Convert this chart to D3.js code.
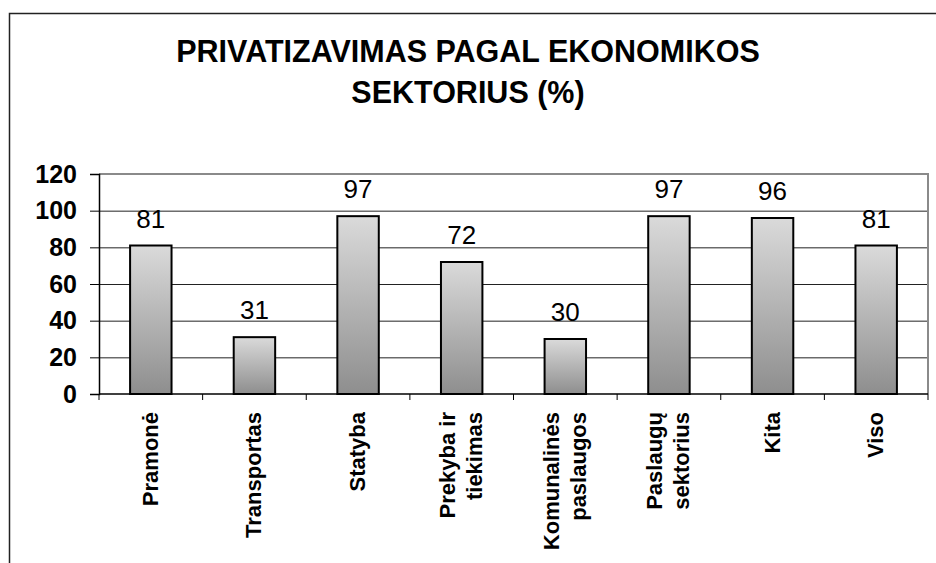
<!DOCTYPE html>
<meta charset="utf-8">
<head>
  <title>Privatizavimas pagal ekonomikos sektorius</title>
</head>

<style>
body {
  margin: 0;
  background: #fff;
  font-family: "Liberation Sans", Arial, sans-serif;
}
</style>

<body>
  <div id="content"></div>

  <script src="https://cdnjs.cloudflare.com/ajax/libs/d3/7.8.5/d3.min.js"></script>

  <script>
// categories (label lines) and values in %
var categories = [
  ['Pramonė'],
  ['Transportas'],
  ['Statyba'],
  ['Prekyba ir', 'tiekimas'],
  ['Komunalinės', 'paslaugos'],
  ['Paslaugų', 'sektorius'],
  ['Kita'],
  ['Viso']
];
var values = [81, 31, 97, 72, 30, 97, 96, 81];
var yTicks = [0, 20, 40, 60, 80, 100, 120];
var titleLines = ['PRIVATIZAVIMAS PAGAL EKONOMIKOS', 'SEKTORIUS (%)'];

var width = 936, height = 563;
var plot = {left: 99, right: 928, top: 174, bottom: 394};

var svg = d3.select('#content').append('svg')
  .attr('width', width)
  .attr('height', height);

// gradient for the bars
var grad = svg.append('defs').append('linearGradient')
  .attr('id', 'barGrad')
  .attr('x1', 0).attr('y1', 0).attr('x2', 0).attr('y2', 1);
grad.append('stop').attr('offset', '0%').attr('stop-color', '#dadada');
grad.append('stop').attr('offset', '100%').attr('stop-color', '#8e8e8e');

// outer frame (right and bottom go off the picture)
svg.append('rect')
  .attr('x', 9.5).attr('y', 13.5)
  .attr('width', 940).attr('height', 600)
  .attr('fill', 'none')
  .attr('stroke', '#222')
  .attr('stroke-width', 1.5);

// title
svg.append('g').selectAll('text')
  .data(titleLines)
  .join('text')
  .attr('x', 468)
  .attr('y', function(d, i) { return 62 + i * 41; })
  .attr('text-anchor', 'middle')
  .style('font-size', '30.5px')
  .style('font-weight', 'bold')
  .attr('fill', '#000')
  .text(function(d) { return d; });

var x = d3.scaleBand()
  .domain(d3.range(categories.length))
  .range([plot.left, plot.right])
  .padding(0);

var y = d3.scaleLinear()
  .domain([0, 120])
  .range([plot.bottom, plot.top]);

// gridlines
svg.append('g').selectAll('line')
  .data(yTicks.filter(function(t) { return t > 0 && t < 120; }))
  .join('line')
  .attr('x1', plot.left).attr('x2', plot.right)
  .attr('y1', function(d) { return y(d) + 0.5; })
  .attr('y2', function(d) { return y(d) + 0.5; })
  .attr('stroke', '#222')
  .attr('stroke-width', 1);

// plot area border top / right (gray)
svg.append('path')
  .attr('d', 'M' + plot.left + ',' + y(120) + 'H' + plot.right + 'V' + plot.bottom)
  .attr('fill', 'none')
  .attr('stroke', '#8a8a8a')
  .attr('stroke-width', 2);

// bars
var barW = x.bandwidth() * 0.4;
svg.append('g').selectAll('rect')
  .data(values)
  .join('rect')
  .attr('x', function(d, i) { return x(i) + (x.bandwidth() - barW) / 2; })
  .attr('y', function(d) { return y(d); })
  .attr('width', barW)
  .attr('height', function(d) { return y(0) - y(d); })
  .attr('fill', 'url(#barGrad)')
  .attr('stroke', '#000')
  .attr('stroke-width', 2);

// value labels
svg.append('g').selectAll('text')
  .data(values)
  .join('text')
  .attr('x', function(d, i) { return x(i) + x.bandwidth() / 2; })
  .attr('y', function(d) { return y(d) - 18; })
  .attr('text-anchor', 'middle')
  .style('font-size', '26px')
  .attr('fill', '#000')
  .text(function(d) { return d; });

// y axis
var yAxis = svg.append('g')
  .attr('transform', 'translate(' + plot.left + ',0)')
  .call(d3.axisLeft(y).tickValues(yTicks).tickSize(9).tickPadding(13));
yAxis.select('.domain').attr('stroke', '#000').attr('stroke-width', 1.5);
yAxis.selectAll('.tick line').attr('stroke', '#000');
yAxis.selectAll('.tick text')
  .style('font-size', '25px')
  .style('font-weight', 'bold')
  .style('font-family', '"Liberation Sans", Arial, sans-serif')
  .attr('fill', '#000');

// x axis line with ticks between categories
var xEdges = d3.range(categories.length + 1).map(function(i) {
  return i < categories.length ? x(i) : plot.right;
});
svg.append('line')
  .attr('x1', plot.left).attr('x2', plot.right)
  .attr('y1', y(0)).attr('y2', y(0))
  .attr('stroke', '#000')
  .attr('stroke-width', 1.5);
svg.append('g').selectAll('line')
  .data(xEdges)
  .join('line')
  .attr('x1', function(d) { return d; }).attr('x2', function(d) { return d; })
  .attr('y1', y(0)).attr('y2', y(0) + 6)
  .attr('stroke', '#000');

// category labels, rotated
var catG = svg.append('g').selectAll('g')
  .data(categories)
  .join('g')
  .attr('transform', function(d, i) {
    return 'translate(' + (x(i) + x.bandwidth() / 2) + ',' + 412 + ') rotate(-90)';
  });
catG.selectAll('text')
  .data(function(d) { return d.map(function(t, j) { return {t: t, j: j, n: d.length}; }); })
  .join('text')
  .attr('x', 0)
  .attr('y', function(d) { return 7 + (d.j - (d.n - 1) / 2) * 27; })
  .attr('text-anchor', 'end')
  .style('font-size', '22px')
  .style('font-weight', 'bold')
  .attr('fill', '#000')
  .text(function(d) { return d.t; });
  </script>
</body>
</html>
